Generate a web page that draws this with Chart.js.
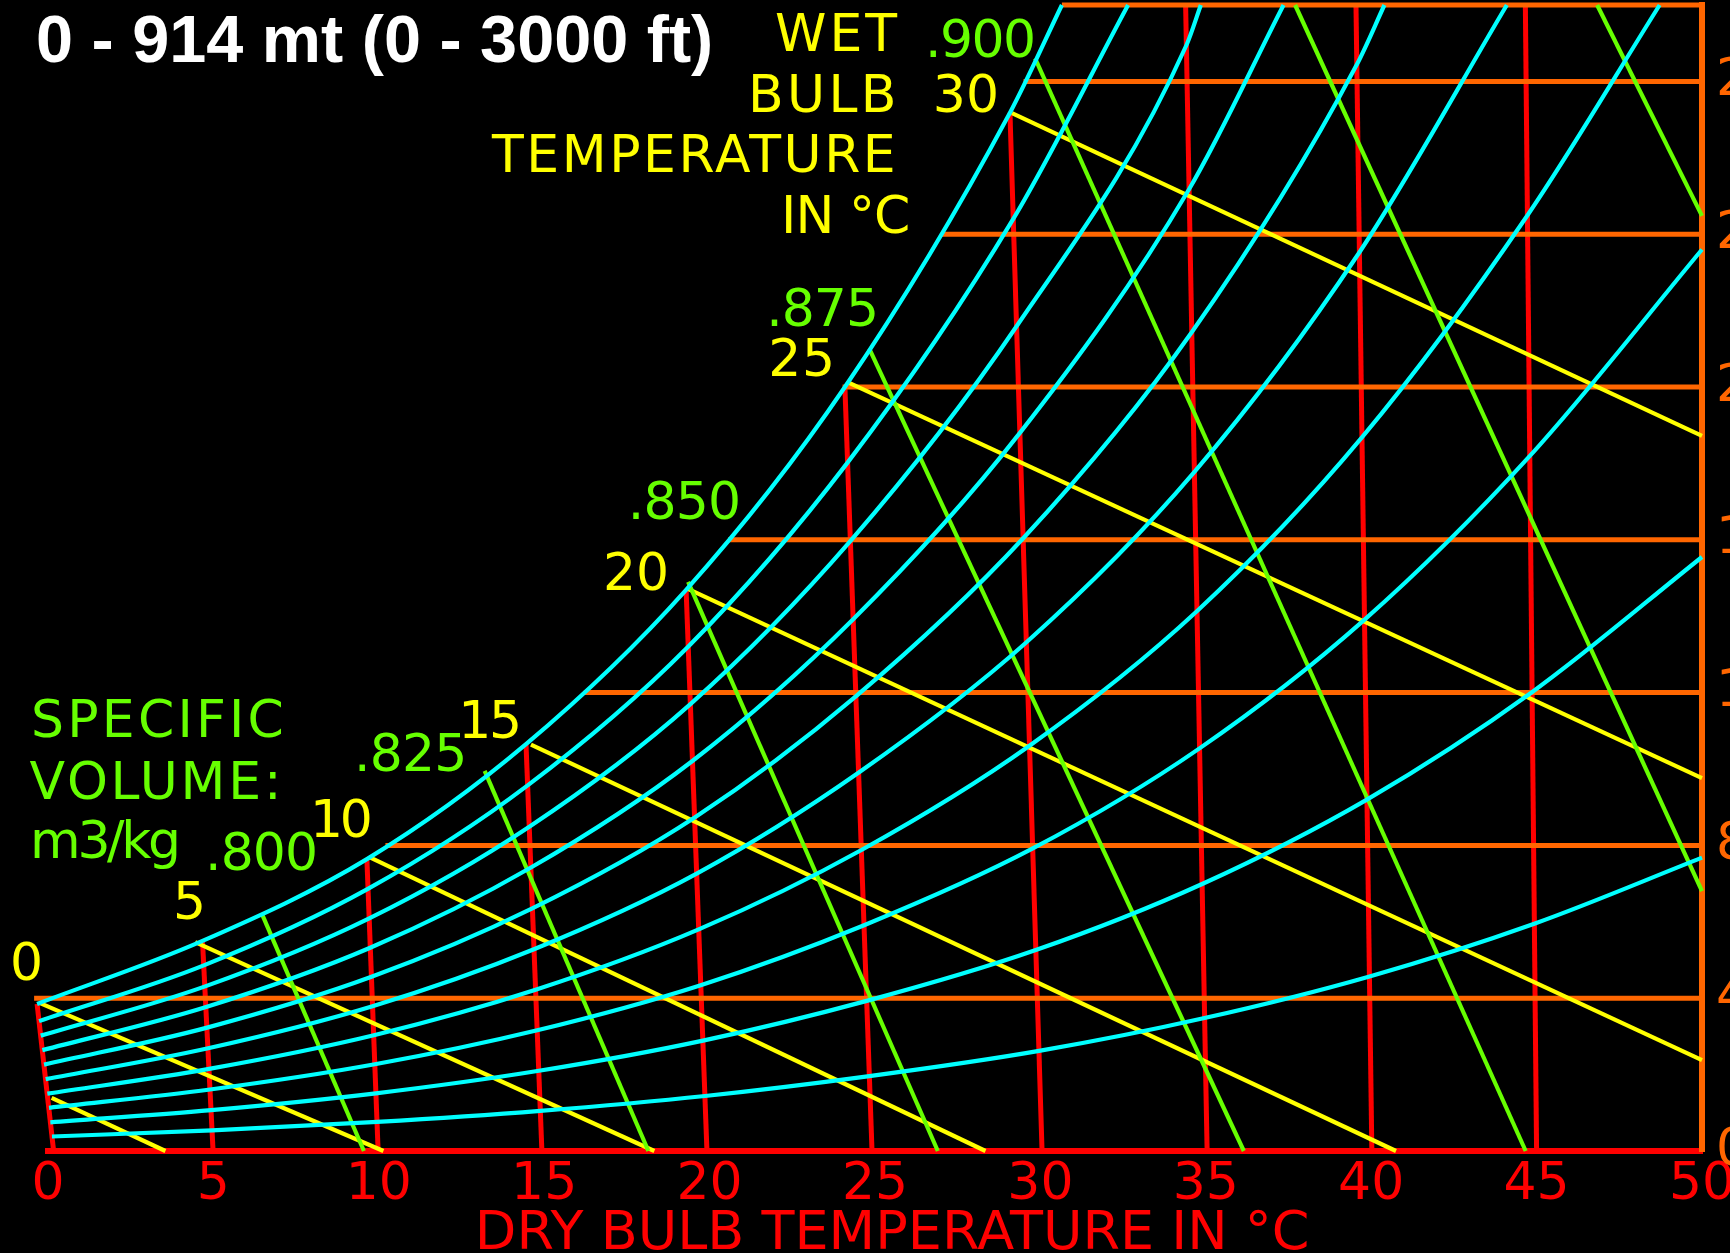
<!DOCTYPE html>
<html>
<head>
<meta charset="utf-8">
<title>Psychrometric chart 0 - 914 mt</title>
<script src="https://cdn.jsdelivr.net/npm/chart.js@4.4.1/dist/chart.umd.min.js"></script>
<style>
  html, body { margin: 0; padding: 0; background: #000; overflow: hidden; }
  #wrap { width: 1790px; height: 1253px; }
  canvas { display: block; }
</style>
</head>
<body>
<div id="wrap"><canvas id="chart" width="1790" height="1253"></canvas></div>
<script>
// ---- Dry-bulb temperature lines (°C): foot on the axis, top on the saturation curve
const dryBulbTemps = [0, 5, 10, 15, 20, 25, 30, 35, 40, 45];
const dryBulbFootX = [0.17, 4.99, 9.98, 14.93, 19.92, 24.91, 30.05, 35.04, 40.02, 45.0];
const dryBulbTopX  = [-0.33, 4.67, 9.64, 14.45, 19.29, 24.09, 29.08, 34.39, 39.54, 44.66];
const dryBulbTopY  = [3.85, 5.5, 7.64, 10.65, 14.69, 20.0, 27.18, 30, 30, 30];

// ---- Humidity ratio lines (g/kg): from the saturation curve to 50 °C
const humidityLevels = [4, 8, 12, 16, 20, 24, 28, 30];
const humidityStartX = [-0.42, 10.2, 16.2, 20.56, 24.02, 27.0, 29.49, 30.65];

// ---- Relative humidity curves, points as [dry bulb position, humidity ratio g/kg]
const rh10  = [[0.12,0.38],[4.96,0.54],[9.95,0.76],[14.88,1.05],[19.86,1.44],[24.83,1.96],[29.96,2.62],[34.96,3.48],[39.95,4.57],[44.93,5.95],[50,7.68]];
const rh20  = [[0.07,0.75],[4.93,1.07],[9.91,1.51],[14.84,2.1],[19.8,2.89],[24.75,3.93],[29.86,5.26],[34.89,6.99],[39.87,9.2],[44.86,12.01],[50,15.55]];
const rh30  = [[0.03,1.13],[4.9,1.61],[9.88,2.27],[14.79,3.16],[19.73,4.34],[24.67,5.91],[29.77,7.92],[34.81,10.54],[39.8,13.91],[44.79,18.19],[50,23.6]];
const rh40  = [[-0.02,1.5],[4.87,2.15],[9.85,3.03],[14.74,4.22],[19.67,5.8],[24.59,7.88],[29.67,10.61],[34.73,14.13],[39.72,18.68],[44.72,24.49],[48.72,30]];
const rh50  = [[-0.07,1.88],[4.84,2.69],[9.81,3.79],[14.69,5.28],[19.61,7.26],[24.5,9.9],[29.57,13.31],[34.65,17.77],[39.64,23.52],[44.1,30]];
const rh60  = [[-0.12,2.26],[4.81,3.23],[9.78,4.56],[14.64,6.35],[19.55,8.73],[24.42,11.9],[29.48,16.04],[34.58,21.44],[39.57,28.45],[40.4,30]];
const rh70  = [[-0.17,2.64],[4.78,3.77],[9.74,5.32],[14.6,7.42],[19.48,10.21],[24.34,13.92],[29.38,18.8],[34.49,25.17],[37.35,30]];
const rh80  = [[-0.22,3.02],[4.75,4.31],[9.71,6.09],[14.55,8.49],[19.42,11.7],[24.26,15.97],[29.28,21.59],[34.41,28.94],[34.85,30]];
const rh90  = [[-0.27,3.4],[4.71,4.86],[9.67,6.86],[14.5,9.57],[19.35,13.2],[24.17,18.02],[29.18,24.4],[32.65,30]];
const rh100 = [[-0.33,3.85],[4.67,5.5],[9.64,7.64],[14.45,10.65],[19.29,14.69],[24.09,20.0],[29.08,27.18],[30.65,30]];
const rhCurves = [rh10, rh20, rh30, rh40, rh50, rh60, rh70, rh80, rh90, rh100];

// ---- Wet-bulb temperature lines (°C): start on saturation, end on an edge
const wetBulbTemps = [0, 5, 10, 15, 20, 25, 30];
const wetBulbStart = [[-0.24,3.87],[4.45,5.47],[9.7,7.7],[14.6,10.64],[19.36,14.71],[24.17,20.13],[29.14,27.17]];
const wetBulbEnd   = [[10.14,0],[18.33,0],[28.34,0],[40.75,0],[50,2.38],[50,9.76],[50,18.72]];
const wetBulbBelowZero = [[0.11,1.39],[3.55,0]];

// ---- Specific volume lines (m3/kg)
const specificVolumes = ['.800', '.825', '.850', '.875', '.900', '.925', '.950'];
const specVolStart = [[6.47,6.2],[13.2,9.95],[19.35,14.9],[24.83,21.0],[29.84,28.6],[37.7,30],[46.83,30]];
const specVolEnd   = [[9.55,0],[18.15,0],[26.9,0],[36.15,0],[44.67,0],[50,6.8],[50,24.48]];

// ---- Colours
const CYAN = '#00ffff', YELLOW = '#ffff00', GREEN = '#66ff00', ORANGE = '#ff6600', RED = '#ff0000';

const pt = p => ({ x: p[0], y: p[1] });
const datasets = [];
function addLine(points, color, width, curved) {
  datasets.push({
    data: points.map(pt),
    showLine: true,
    borderColor: color,
    backgroundColor: color,
    borderWidth: width,
    pointRadius: 0,
    clip: false,
    cubicInterpolationMode: curved ? 'monotone' : 'default',
    tension: 0
  });
}

rhCurves.forEach(c => addLine(c, CYAN, 4.2, true));
specVolStart.forEach((s, i) => addLine([s, specVolEnd[i]], GREEN, 4.2, false));
wetBulbStart.forEach((s, i) => addLine([s, wetBulbEnd[i]], YELLOW, 4.2, false));
addLine(wetBulbBelowZero, YELLOW, 4.2, false);
humidityLevels.forEach((w, i) => addLine([[humidityStartX[i], w], [50, w]], ORANGE, 5, false));
dryBulbTemps.forEach((t, i) => addLine([[dryBulbFootX[i], 0], [dryBulbTopX[i], dryBulbTopY[i]]], RED, 5, false));

// ---- Text blocks: left x, right x and baseline y in axis units
const PIX = "52px 'DejaVu Sans'";
const chartTexts = [
  { text: '0 - 914 mt (0 - 3000 ft)', x0: -0.30, x1: 20.01, y: 28.51, color: '#ffffff', font: "bold 67px 'Liberation Sans'", fit: 'scale' },
  { text: 'WET', x0: 22.01, x1: 25.67, y: 28.80, color: YELLOW },
  { text: 'BULB', x0: 21.31, x1: 25.54, y: 27.20, color: YELLOW },
  { text: 'TEMPERATURE', x0: 13.39, x1: 25.54, y: 25.63, color: YELLOW },
  { text: 'IN °C', x0: 22.31, x1: 26.00, y: 24.03, color: YELLOW },
  { text: '.900', x0: 26.66, x1: 29.78, y: 28.64, color: GREEN },
  { text: '30', x0: 26.84, x1: 28.66, y: 27.20, color: YELLOW },
  { text: '.875', x0: 21.86, x1: 25.00, y: 21.60, color: GREEN },
  { text: '25', x0: 21.86, x1: 23.67, y: 20.29, color: YELLOW },
  { text: '.850', x0: 17.68, x1: 20.86, y: 16.54, color: GREEN },
  { text: '20', x0: 16.87, x1: 18.68, y: 14.69, color: YELLOW },
  { text: '15', x0: 12.55, x1: 14.21, y: 10.81, color: YELLOW },
  { text: '.825', x0: 9.40, x1: 12.55, y: 9.95, color: GREEN },
  { text: '10', x0: 8.07, x1: 9.73, y: 8.22, color: YELLOW },
  { text: '.800', x0: 4.90, x1: 8.07, y: 7.36, color: GREEN },
  { text: 'm3/kg', x0: -0.42, x1: 3.90, y: 7.67, color: GREEN },
  { text: 'SPECIFIC', x0: -0.42, x1: 7.06, y: 10.84, color: GREEN },
  { text: 'VOLUME:', x0: -0.56, x1: 6.89, y: 9.21, color: GREEN },
  { text: '5', x0: 3.90, x1: 4.75, y: 6.07, color: YELLOW },
  { text: '0', x0: -1.06, x1: -0.24, y: 4.48, color: YELLOW }
];

const chartTextPlugin = {
  id: 'chartText',
  afterDatasetsDraw(chart) {
    const { ctx, scales: { x, y } } = chart;
    ctx.save();
    ctx.textAlign = 'left';
    ctx.textBaseline = 'alphabetic';
    for (const t of chartTexts) {
      const left = x.getPixelForValue(t.x0);
      const right = x.getPixelForValue(t.x1);
      const base = y.getPixelForValue(t.y);
      ctx.font = t.font || PIX;
      ctx.fillStyle = t.color;
      ctx.letterSpacing = '0px';
      const m = ctx.measureText(t.text);
      const ink = m.actualBoundingBoxLeft + m.actualBoundingBoxRight;
      const target = right - left;
      if (t.fit === 'scale') {
        ctx.save();
        ctx.translate(left, base);
        ctx.scale(target / ink, 1);
        ctx.fillText(t.text, m.actualBoundingBoxLeft, 0);
        ctx.restore();
      } else {
        const n = Array.from(t.text).length;
        const sp = n > 1 ? (target - ink) / (n - 1) : 0;
        ctx.letterSpacing = sp.toFixed(2) + 'px';
        ctx.fillText(t.text, left + m.actualBoundingBoxLeft, base);
        ctx.letterSpacing = '0px';
      }
    }
    ctx.restore();
  }
};

// the plot area is fixed; tick labels may sit past its corners
function noLabelPadding(scale) {
  scale.paddingTop = 0;
  scale.paddingBottom = 0;
  scale.paddingLeft = 0;
  scale.paddingRight = 0;
}

new Chart(document.getElementById('chart'), {
  type: 'scatter',
  data: { datasets },
  options: {
    responsive: false,
    animation: false,
    events: [],
    layout: { padding: { left: 48, top: 5, right: 0, bottom: 0 } },
    plugins: { legend: { display: false }, tooltip: { enabled: false } },
    scales: {
      x: {
        type: 'linear', position: 'bottom', min: 0, max: 50,
        grid: { display: false, drawTicks: false },
        border: { display: true, color: RED, width: 6 },
        ticks: {
          stepSize: 5, color: RED, padding: 0, autoSkip: false, maxRotation: 0,
          font: { family: 'DejaVu Sans', size: 52, lineHeight: 1.31 }
        },
        title: {
          display: true, text: '  DRY BULB TEMPERATURE IN °C', color: RED, padding: 0,
          font: { family: 'DejaVu Sans', size: 54, lineHeight: 0.65 }
        },
        afterFit(scale) { scale.height = 102; noLabelPadding(scale); }
      },
      y: {
        type: 'linear', position: 'right', min: 0, max: 30,
        grid: { display: false, drawTicks: false },
        border: { display: true, color: ORANGE, width: 6 },
        ticks: {
          stepSize: 4, includeBounds: false, color: ORANGE, padding: 14, autoSkip: false,
          font: { family: 'DejaVu Sans', size: 52, lineHeight: 1.15 }
        },
        afterFit(scale) { scale.width = 88; noLabelPadding(scale); }
      }
    }
  },
  plugins: [chartTextPlugin]
});
</script>
</body>
</html>
